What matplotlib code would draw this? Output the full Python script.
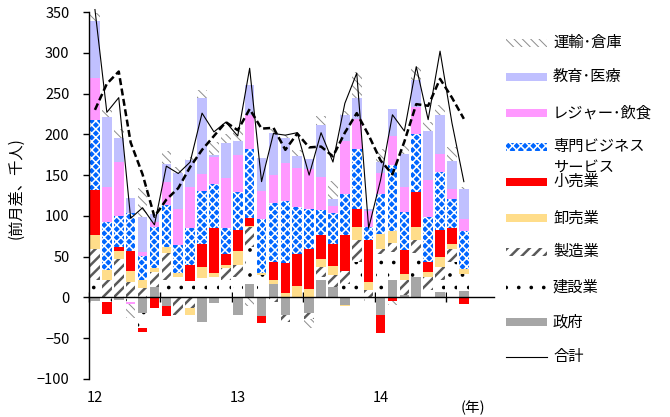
import numpy as np
import matplotlib
matplotlib.use('Agg')
import matplotlib.pyplot as plt
import matplotlib.hatch as mhatch
from matplotlib.patches import Rectangle
from matplotlib.lines import Line2D

plt.rcParams['font.family'] = ['Noto Sans CJK JP', 'DejaVu Sans']

# smaller, sparser dots for the '.' hatch (construction)
try:
    class _Dots(mhatch.Circles):
        size = 0.09
        filled = True
        def __init__(self, hatch, density):
            self.num_rows = hatch.count('.') * 8
            super().__init__(hatch, density)
    mhatch._hatch_types = [(_Dots if t is mhatch.SmallFilledCircles else t)
                           for t in mhatch._hatch_types]
except Exception:
    pass

# ---------------- data (thousand persons, m/m change), Jan 2012 - Aug 2014
months = [f"{y}-{m:02d}" for y in (2012, 2013, 2014) for m in range(1, 13)][:32]
year_labels = ['12', '13', '14']
year_pos = [0, 12, 24]

gov    = [-4, 0, -3, 0, -19, 13, -11, 0, 0, -30, -7, 0,
          -22, 17, -23, 17, -22, 0, -19, 22, 13, -9, 0, 0,
          -22, 22, 3, 25, 0, 7, 0, 8]
constr = [21, -6, 0, -5, -18, 0, 21, 25, 20, 24, 25, 22,
          25, 45, 27, 0, 0, 0, 0, 3, 0, 17, 44, -16,
          53, 34, 0, 30, 9, 14, 44, 21]
manuf  = [39, 22, 47, 19, 12, 18, 34, -21, -13, 0, 0, 14,
          15, 24, 0, -6, -8, 0, -8, 12, 14, 16, 26, 9,
          7, 11, 19, 15, 16, 16, 16, 0]
whole  = [17, 12, 10, 14, 10, 5, 7, 5, -8, 13, 5, 4,
          17, 2, 3, 5, 6, 14, 10, 10, 11, -2, 16, 10,
          18, 14, 7, 16, 6, 12, 5, 6]
retail = [55, -14, 5, 24, -5, -13, -12, 0, 20, 29, 55, 13,
          26, 9, -8, 22, 36, 39, 49, 30, 28, 43, 22, 51,
          -21, -4, 29, 43, 12, 34, 20, -8]
pbs    = [85, 58, 38, 46, 29, 50, 51, 34, 45, 64, 54, 32,
          46, 85, 66, 72, 76, 58, 49, 30, 37, 51, 74, 16,
          49, 82, 47, 72, 56, 71, 36, 46]
leis   = [52, 44, 66, -3, 5, 6, 29, 45, 50, 21, 33, 61,
          46, 42, 34, 34, 47, 48, 50, 41, 9, 65, 37, 20,
          25, 35, 31, 32, 45, 22, 12, 15]
edu    = [70, 85, 30, 19, 43, 10, 22, 43, 34, 93, 3, 43,
          17, 36, 41, 52, 30, 15, 12, 64, 9, 32, 25, 3,
          14, 33, 40, 34, 60, 48, 34, 37]
trans  = [10, 9, 11, -17, 35, 0, 16, 8, 3, 10, 16, 12,
          16, -10, 0, 5, 4, 7, -10, 10, 22, 5, 33, 0,
          16, -5, 10, 16, 11, 12, 17, 2]
total  = [353, 227, 245, 97, 110, 89, 161, 152, 166, 226, 203, 215,
          198, 281, 142, 201, 199, 202, 150, 202, 166, 238, 275, 85,
          144, 224, 204, 283, 218, 302, 214, 142]
total_3m = [230, 262, 277, 190, 151, 99, 120, 134, 160, 181, 198, 215,
            205, 231, 207, 208, 181, 201, 184, 185, 173, 202, 226, 199,
            168, 151, 191, 237, 235, 268, 245, 219]

TRANS_STYLE = ('white', '\\\\\\\\', '#8C8C8C', 0.7)
EDU_STYLE = ('#C0C0FF', None, '#C0C0FF', 1.0)
LEIS_STYLE = ('#FF99FF', None, '#FF99FF', 1.0)
PBS_STYLE = ('#0066FF', 'xxxx', 'white', 1.1)
RETAIL_STYLE = ('#FF0000', None, '#FF0000', 1.0)
WHOLE_STYLE = ('#FFDD8A', None, '#FFDD8A', 1.0)
MANUF_STYLE = ('white', '///', '#5A5A5A', 1.8)
CONSTR_STYLE = ('white', '.', 'black', 1.0)
GOV_STYLE = ('#A6A6A6', None, '#A6A6A6', 1.0)

series = [
    ('政府', gov, GOV_STYLE),
    ('建設業', constr, CONSTR_STYLE),
    ('製造業', manuf, MANUF_STYLE),
    ('卸売業', whole, WHOLE_STYLE),
    ('小売業', retail, RETAIL_STYLE),
    ('専門ビジネスサービス', pbs, PBS_STYLE),
    ('レジャー･飲食', leis, LEIS_STYLE),
    ('教育･医療', edu, EDU_STYLE),
    ('運輸･倉庫', trans, TRANS_STYLE),
]

W, H = 670, 417
fig = plt.figure(figsize=(W / 100, H / 100), dpi=100)
x_left, x_right, y_top, y_bot = 89, 493.6, 12, 379
ax = fig.add_axes([x_left / W, 1 - y_bot / H, (x_right - x_left) / W, (y_bot - y_top) / H])

x = np.arange(len(months))
pos_base = np.zeros(len(x))
neg_base = np.zeros(len(x))
for name, vals, (fc, hatch, hc, hlw) in series:
    v = np.asarray(vals, float)
    bottom = np.where(v >= 0, pos_base, neg_base)
    with plt.rc_context({'hatch.linewidth': hlw}):
        bars = ax.bar(x, v, width=0.8, bottom=bottom, color=fc, edgecolor=hc,
                      linewidth=0, hatch=hatch, zorder=2)
    for b in bars:
        if hasattr(b, 'set_hatch_linewidth'):
            b.set_hatch_linewidth(hlw)
    pos_base += np.clip(v, 0, None)
    neg_base += np.clip(v, None, 0)

ax.plot(x, total, color='black', lw=0.8, zorder=4, clip_on=False)
ax.plot(x, total_3m, color='black', lw=1.8, ls=(0, (2.8, 1.4)), zorder=4)

ax.set_xlim(-0.5, 33.5)
ax.set_ylim(-100, 350)
for s in ('top', 'right'):
    ax.spines[s].set_visible(False)
ax.spines['bottom'].set_position(('data', 0))
ax.spines['bottom'].set_zorder(3)
ax.spines['left'].set_linewidth(1.0)
ax.spines['bottom'].set_linewidth(1.0)
ax.set_xticks([-0.5, 5.5, 11.5, 17.5, 23.5, 29.5])
ax.set_xticklabels([])
ax.tick_params(axis='x', direction='inout', length=7, width=1.0)
ax.set_yticks(np.arange(-100, 351, 50))
ax.set_yticklabels([f"{v:d}".replace('-', '\u2212') for v in range(-100, 351, 50)])
ax.tick_params(axis='y', direction='out', length=4, width=1.0, pad=10, labelsize=10.5)

for p, lab in zip(year_pos, year_labels):
    ax.text(p, -(398 - y_bot) / (y_bot - y_top), lab, transform=ax.get_xaxis_transform(),
            ha='center', va='center', fontsize=10.5)
fig.text(473 / W, 1 - 408 / H, '(年)', ha='center', va='center', fontsize=10.5)
fig.text(16 / W, 1 - 188 / H, '(前月差、千人)', rotation=90, ha='center', va='center',
         fontsize=11)

# ---------------- legend (drawn manually, as in the reference)
leg = [
    ('運輸･倉庫', 42.7, TRANS_STYLE),
    ('教育･医療', 76.7, EDU_STYLE),
    ('レジャー･飲食', 112.7, LEIS_STYLE),
    ('専門ビジネス', 146.7, PBS_STYLE),
    ('小売業', 181.7, RETAIL_STYLE),
    ('卸売業', 218.0, WHOLE_STYLE),
    ('製造業', 251.7, MANUF_STYLE),
    ('建設業', 286.7, CONSTR_STYLE),
    ('政府', 321.7, GOV_STYLE),
    ('合計', 356.7, None),
]
px0, px1, ph = 506, 547, 8
for lab, yc, style in leg:
    if style is not None:
        fc, hatch, hc, hlw = style
        with plt.rc_context({'hatch.linewidth': hlw}):
            r = Rectangle((px0 / W, 1 - (yc + ph / 2) / H), (px1 - px0) / W, ph / H,
                          transform=fig.transFigure, facecolor=fc, edgecolor=hc,
                          linewidth=0, hatch=hatch)
        if hasattr(r, 'set_hatch_linewidth'):
            r.set_hatch_linewidth(hlw)
        fig.patches.append(r)
    else:
        fig.lines.append(Line2D([px0 / W, px1 / W], [1 - yc / H] * 2,
                                transform=fig.transFigure, color='black', lw=0.8))
    fig.text(553 / W, 1 - yc / H, lab, ha='left', va='center', fontsize=11)
fig.text(553 / W, 1 - 168 / H, 'サービス', ha='left', va='center', fontsize=11)

fig.savefig('out.png', dpi=100)
